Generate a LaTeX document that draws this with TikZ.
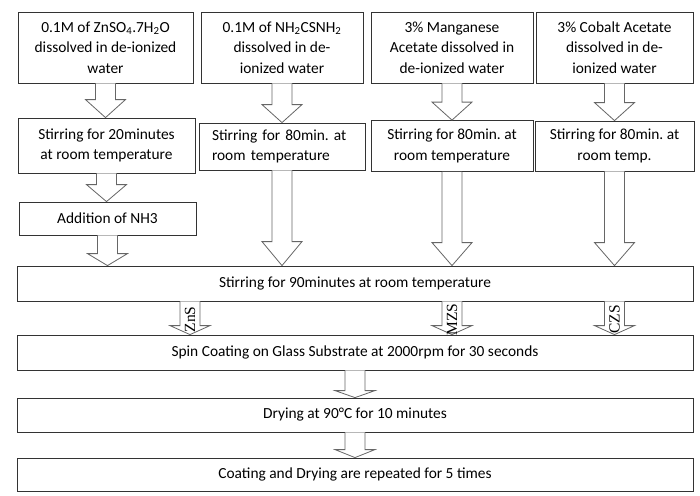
\documentclass[tikz,border=0pt]{standalone}
\usepackage{fontspec}
\setmainfont{Carlito}
\newfontfamily\tagfont{Liberation Serif}
\usetikzlibrary{calc}
\frenchspacing

\tikzset{
  stage/.style={draw=black!80, line width=0.8pt, fill=white, align=center, inner sep=2pt,
    font=\fontsize{15.4}{20.5}\selectfont},
  hollow/.style={draw=black!60, line width=0.8pt, fill=white, line join=miter},
  tag/.style={rotate=90, inner sep=0pt, font=\tagfont\fontsize{15.5}{15.5}\selectfont}
}
% hollow block arrow from a point straight down to the top of a node
\newcommand{\blockdown}[3]{%
  \draw[hollow] let \p1=(#1), \p2=(#1 |- #2.north) in
    (\x1-10pt,\y1) -- (\x1-10pt,\y2+#3) -- (\x1-20pt,\y2+#3) -- (\x1,\y2)
    -- (\x1+20pt,\y2+#3) -- (\x1+10pt,\y2+#3) -- (\x1+10pt,\y1);}

\begin{document}
\begin{tikzpicture}[x=1pt,y=-1pt]
\useasboundingbox (0,0) rectangle (700,495);

% solutions
\node[stage, minimum width=175pt, minimum height=71pt] (zinc) at (105.5,47.5) {0.1M of ZnSO\textsubscript{4}.7H\textsubscript{2}O\\dissolved in de-ionized\\water};
\node[stage, minimum width=162pt, minimum height=71pt] (thio) at (282,47.5) {0.1M of NH\textsubscript{2}CSNH\textsubscript{2}\\dissolved in de-\\ionized water};
\node[stage, minimum width=162pt, minimum height=71pt] (mang) at (452,47.5) {3\% Manganese\\Acetate dissolved in\\de-ionized water};
\node[stage, minimum width=157pt, minimum height=71pt] (cob) at (614.5,47.5) {3\% Cobalt Acetate\\dissolved in de-\\ionized water};

% first stirring
\node[stage, minimum width=177pt, minimum height=55pt] (stirA) at (106.5,145.5) {Stirring for 20minutes\\at room temperature};
\node[stage, text width=140pt, inner xsep=13pt, align=left, minimum height=47pt] (stirB) at (282,146.5) {Stirring for 80min. at\\room temperature};
\node[stage, minimum width=162pt, minimum height=51pt] (stirC) at (452,146) {Stirring for 80min. at\\room temperature};
\node[stage, minimum width=159pt, minimum height=50pt] (stirD) at (614.5,146) {Stirring for 80min. at\\room temp.};
\node[stage, minimum width=177pt, minimum height=33pt] (nh3) at (107.5,218.5) {Addition of NH3};

% common steps
\node[stage, minimum width=676pt, minimum height=35pt] (mix) at (355,283.5) {Stirring for 90minutes at room temperature};
\node[stage, minimum width=676pt, minimum height=35pt] (spin) at (355,352.5) {Spin Coating on Glass Substrate at 2000rpm for 30 seconds};
\node[stage, minimum width=676pt, minimum height=34pt] (dry) at (355,415) {Drying at 90°C for 10 minutes};
\node[stage, minimum width=676pt, minimum height=33pt] (rep) at (355,474.5) {Coating and Drying are repeated for 5 times};

% arrows
\blockdown{zinc.south}{stirA}{18pt}
\blockdown{thio.south}{stirB}{18pt}
\blockdown{mang.south}{stirC}{18pt}
\blockdown{cob.south}{stirD}{18pt}
\blockdown{stirA.south}{nh3}{17pt}
\blockdown{nh3.south}{mix}{12pt}
\blockdown{stirB.south}{mix}{24pt}
\blockdown{stirC.south}{mix}{23pt}
\blockdown{stirD.south}{mix}{23pt}

\coordinate (zns) at ([xshift=-165pt]mix.south);
\coordinate (mzs) at (stirC.south |- mix.south);
\coordinate (czs) at (stirD.south |- mix.south);
\blockdown{zns}{spin}{9pt}
\blockdown{mzs}{spin}{9pt}
\blockdown{czs}{spin}{9pt}
\node[tag] (znslab) at ([yshift=-18pt]zns) {ZnS};
\node[tag] (mzslab) at ([yshift=-18pt]mzs) {MZS};
\node[tag] (czslab) at ([yshift=-18pt]czs) {CZS};

\blockdown{spin.south}{dry}{7pt}
\blockdown{dry.south}{rep}{8pt}
\end{tikzpicture}
\end{document}
